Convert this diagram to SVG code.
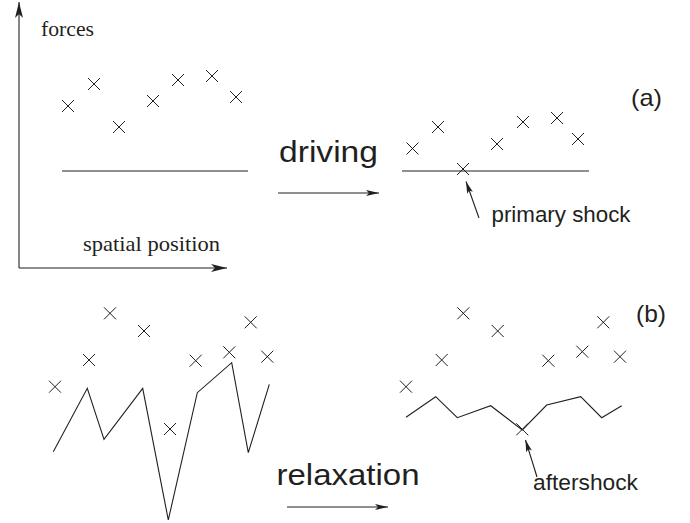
<svg xmlns="http://www.w3.org/2000/svg" width="690" height="523" viewBox="0 0 690 523">
  <style>
    .ln { stroke: #231f20; stroke-width: 1.1; fill: none; }
    .cross { stroke: #231f20; stroke-width: 1; fill: none; }
    .serif { font-family: "Liberation Serif", "Times New Roman", serif; fill: #231f20; }
    .sans { font-family: "Liberation Sans", Arial, sans-serif; fill: #231f20; }
  </style>
  <defs>
    <path id="x" class="cross" d="M-6,-6 L6,6 M-6,6 L6,-6"/>
    <marker id="axisHead" markerUnits="userSpaceOnUse" markerWidth="18" markerHeight="10" refX="16" refY="4" orient="auto">
      <path d="M0,0 L16,4 L0,8 L4,4 z" fill="#231f20"/>
    </marker>
    <marker id="bigHead" markerUnits="userSpaceOnUse" markerWidth="14" markerHeight="8" refX="13" refY="3" orient="auto">
      <path d="M0,0 L13,3 L0,6 L3,3 z" fill="#231f20"/>
    </marker>
    <marker id="ptrHead" markerUnits="userSpaceOnUse" markerWidth="14" markerHeight="8" refX="12" refY="3" orient="auto">
      <path d="M0,0 L12,3 L0,6 L2.5,3 z" fill="#231f20"/>
    </marker>
  </defs>

  <g id="axes">
    <line class="ln" x1="19" y1="268" x2="19" y2="2" marker-end="url(#axisHead)"/>
    <line class="ln" x1="19" y1="268" x2="227" y2="268" marker-end="url(#axisHead)"/>
    <text class="serif" x="41" y="35.5" font-size="22" textLength="53" lengthAdjust="spacingAndGlyphs">forces</text>
    <text class="serif" x="83" y="251" font-size="22" textLength="137" lengthAdjust="spacingAndGlyphs">spatial position</text>
  </g>

  <g id="panel-a-before">
    <line class="ln" x1="62" y1="171" x2="248" y2="171"/>
    <use href="#x" x="68" y="106"/>
    <use href="#x" x="94" y="84"/>
    <use href="#x" x="119" y="127"/>
    <use href="#x" x="153" y="101"/>
    <use href="#x" x="178" y="80"/>
    <use href="#x" x="212" y="76"/>
    <use href="#x" x="236" y="97"/>
  </g>

  <g id="label-a">
    <text class="sans" x="631" y="105.5" font-size="24" textLength="31" lengthAdjust="spacingAndGlyphs">(a)</text>
  </g>

  <g id="driving">
    <text class="sans" x="279" y="162" font-size="30" textLength="99" lengthAdjust="spacingAndGlyphs">driving</text>
  </g>

  <g id="panel-a-after">
    <line class="ln" x1="402" y1="171" x2="589" y2="171"/>
    <use href="#x" x="412.5" y="148.5"/>
    <use href="#x" x="438" y="127"/>
    <use href="#x" x="463" y="169"/>
    <use href="#x" x="497" y="144"/>
    <use href="#x" x="523" y="122"/>
    <use href="#x" x="557" y="118"/>
    <use href="#x" x="578" y="139"/>
    <text class="sans" x="491.5" y="222" font-size="22" textLength="139" lengthAdjust="spacingAndGlyphs">primary shock</text>
  </g>

  <g id="panel-b-before">
    <polyline class="ln" points="53.3,451.7 87.3,388.3 104,439.3 142.7,388.3 168.3,520 197.3,392.7 231.7,362.7 248.3,452.7 269.3,384.3"/>
    <use href="#x" x="55" y="386.7"/>
    <use href="#x" x="89" y="360"/>
    <use href="#x" x="110" y="313.3"/>
    <use href="#x" x="144" y="331"/>
    <use href="#x" x="170" y="429"/>
    <use href="#x" x="195.7" y="360.7"/>
    <use href="#x" x="229.3" y="352.3"/>
    <use href="#x" x="250.7" y="322.3"/>
    <use href="#x" x="267.3" y="356.7"/>
  </g>

  <g id="label-b">
    <text class="sans" x="636" y="322" font-size="24" textLength="30" lengthAdjust="spacingAndGlyphs">(b)</text>
  </g>

  <g id="relaxation">
    <text class="sans" x="276.5" y="485" font-size="30" textLength="143" lengthAdjust="spacingAndGlyphs">relaxation</text>
  </g>

  <g id="panel-b-after">
    <polyline class="ln" points="406,417.3 435.7,396.7 457.3,417.7 490.7,405.7 522.3,430 546.7,405 580.7,396.7 601.7,417.7 621.7,405.7"/>
    <use href="#x" x="406" y="386.7"/>
    <use href="#x" x="441.7" y="360"/>
    <use href="#x" x="463.3" y="313.3"/>
    <use href="#x" x="497.7" y="331"/>
    <use href="#x" x="522.3" y="429.3"/>
    <use href="#x" x="548.3" y="360.7"/>
    <use href="#x" x="582.3" y="351.7"/>
    <use href="#x" x="603.3" y="322.3"/>
    <use href="#x" x="620" y="356.7"/>
    <text class="sans" x="533" y="490" font-size="22" textLength="105" lengthAdjust="spacingAndGlyphs">aftershock</text>
  </g>

  <g id="connectors">
    <line class="ln" x1="278" y1="193" x2="379" y2="193" marker-end="url(#bigHead)"/>
    <line class="ln" x1="287" y1="507" x2="388" y2="507" marker-end="url(#bigHead)"/>
    <line class="ln" x1="479" y1="218" x2="466" y2="181.5" marker-end="url(#ptrHead)"/>
    <line class="ln" x1="537" y1="477" x2="525.5" y2="440" marker-end="url(#ptrHead)"/>
  </g>
</svg>
